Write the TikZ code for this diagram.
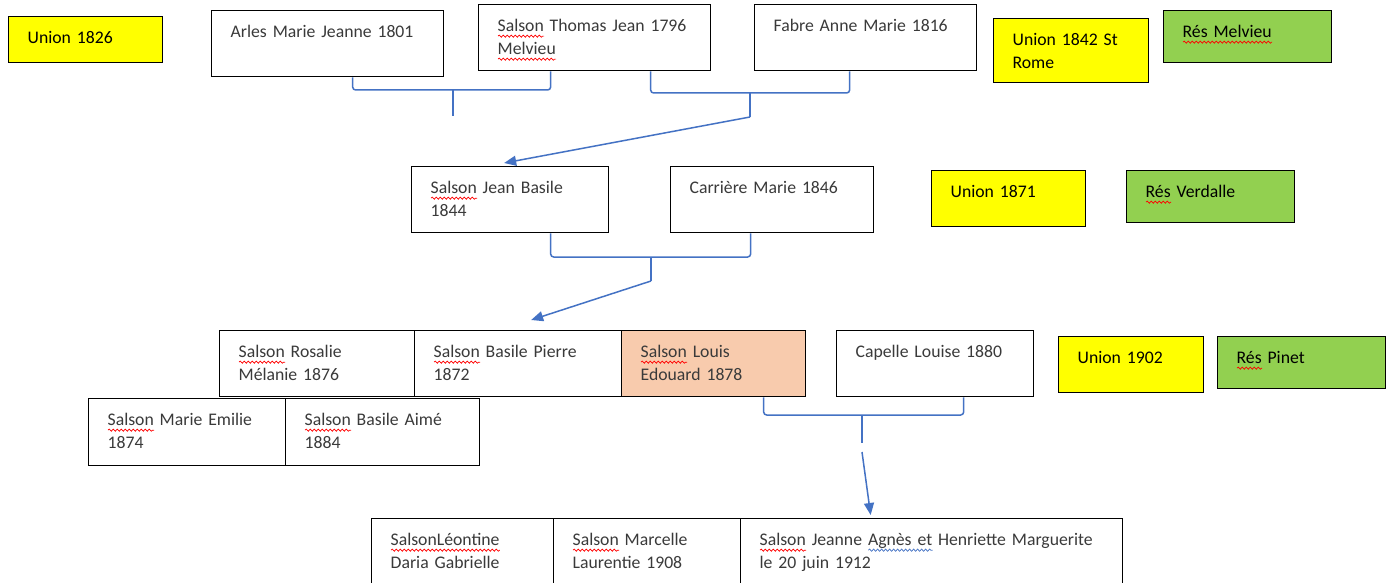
\documentclass[tikz,border=0pt]{standalone}
\usepackage{fontspec}
\setmainfont{Carlito}
\usetikzlibrary{arrows.meta,decorations.pathmorphing}

\definecolor{unionyellow}{HTML}{FFFF00}
\definecolor{resgreen}{HTML}{92D050}
\definecolor{peach}{HTML}{F8CBAD}
\definecolor{linkblue}{HTML}{4472C4}
\definecolor{boxtext}{HTML}{3A3A3A}

% wavy spell-check underlines
\newlength\wavew
\newcommand\wavy[2]{\leavevmode\settowidth\wavew{#2}\rlap{\tikz[baseline=0pt]\draw[#1, line width=0.7pt, decorate, decoration={snake, amplitude=1.1pt, segment length=4pt}] (0pt,-4.5pt) -- (\wavew,-4.5pt);}#2}
\newcommand\spell[1]{\wavy{red}{#1}}
\newcommand\gram[1]{\wavy{linkblue}{#1}}

\begin{document}
\begin{tikzpicture}[
    x=1pt, y=-1pt,
    every node/.style={font=\fontsize{17.7}{23}\selectfont},
    person/.style 2 args={draw, line width=1.3pt, anchor=north west,
        inner xsep=19pt, inner ysep=0pt, align=left, text=boxtext,
        /utils/exec={\pgfmathsetlengthmacro\bxwidth{#1-38}\pgfmathsetlengthmacro\bxdepth{#2-27}},
        text width=\bxwidth, text height=27pt, text depth=\bxdepth},
    union/.style={fill=unionyellow, text=black},
    res/.style={fill=resgreen, text=black},
    brace/.style={draw=linkblue, line width=1.5pt, rounded corners=3pt},
    link/.style={draw=linkblue, line width=1.5pt, -{Triangle[length=12pt,width=10pt]}}
]
\useasboundingbox[fill=white] (0,0) rectangle (1394,583);

% generation 1
\node[person={154}{46}, union] (u1826) at (8,16) {Union 1826};
\node[person={232}{66}] (arles) at (211,10) {Arles Marie Jeanne 1801};
\node[person={232}{66}] (thomas) at (478,4) {\spell{Salson} Thomas Jean 1796\\\spell{Melvieu}};
\node[person={222}{66}] (fabre) at (754,4) {Fabre Anne Marie 1816};
\node[person={155}{64}, union] (u1842) at (993,18) {Union 1842 St\\Rome};
\node[person={168}{52}, res] (rmelvieu) at (1163,10) {\spell{Rés Melvieu}};

% generation 2
\node[person={197}{66}] (basile) at (411,166) {\spell{Salson} Jean Basile\\1844};
\node[person={203}{66}] (carriere) at (670,166) {Carrière Marie 1846};
\node[person={154}{56}, union] (u1871) at (931,170) {Union 1871};
\node[person={168}{52}, res] (rverdalle) at (1126,170) {\spell{Rés} Verdalle};

% generation 3
\node[person={195}{66}] (rosalie) at (219,330) {\spell{Salson} Rosalie\\Mélanie 1876};
\node[person={207}{66}] (bpierre) at (414,330) {\spell{Salson} Basile Pierre\\1872};
\node[person={184}{66}, fill=peach] (louis) at (621,330) {\spell{Salson} Louis\\Edouard 1878};
\node[person={197}{66}] (capelle) at (836,330) {Capelle Louise 1880};
\node[person={145}{56}, union] (u1902) at (1058,336) {Union 1902};
\node[person={168}{52}, res] (rpinet) at (1217,336) {\spell{Rés} Pinet};
\node[person={197}{67}] (emilie) at (88,398) {\spell{Salson} Marie Emilie\\1874};
\node[person={194}{67}] (aime) at (285,398) {\spell{Salson} Basile Aimé\\1884};

% generation 4
\node[person={182}{80}] (leontine) at (371,518) {\spell{SalsonLéontine}\\Daria Gabrielle};
\node[person={187}{80}] (marcelle) at (553,518) {\spell{Salson} Marcelle\\Laurentie 1908};
\node[person={382}{80}] (jeanne) at (740,518) {\spell{Salson} Jeanne \gram{Agnès et} Henriette Marguerite\\le 20 juin 1912};

% braces and arrows
\coordinate (m1) at (453,90);
\coordinate (m2) at (750,93);
\coordinate (m3) at (651,257);
\coordinate (m4) at (862,415);

\draw[brace] ([xshift=25pt]arles.south) |- (m1) -| ([xshift=-44pt]thomas.south);
\draw[brace] (m1) -- ++(0,26);
\draw[brace] ([xshift=56pt]thomas.south) |- (m2) -| ([xshift=-16pt]fabre.south);
\draw[brace] (m2) -- ++(0,24) coordinate (t2);
\draw[link] (t2) -- ([xshift=-6pt,yshift=3pt]basile.north);

\draw[brace] ([xshift=40.5pt]basile.south) |- (m3) -| ([xshift=-21.5pt]carriere.south);
\draw[brace] (m3) -- ++(0,24) coordinate (t3);
\draw[link] (t3) -- ([xshift=13pt,yshift=10pt]bpierre.north);

\draw[brace] ([xshift=50pt]louis.south) |- (m4) -| ([xshift=28.5pt]capelle.south);
\draw[brace] (m4) -- ++(0,28);
\coordinate (t4) at (862,452);
\draw[link] (t4) -- ([xshift=-61pt,yshift=3pt]jeanne.north);

\end{tikzpicture}
\end{document}
